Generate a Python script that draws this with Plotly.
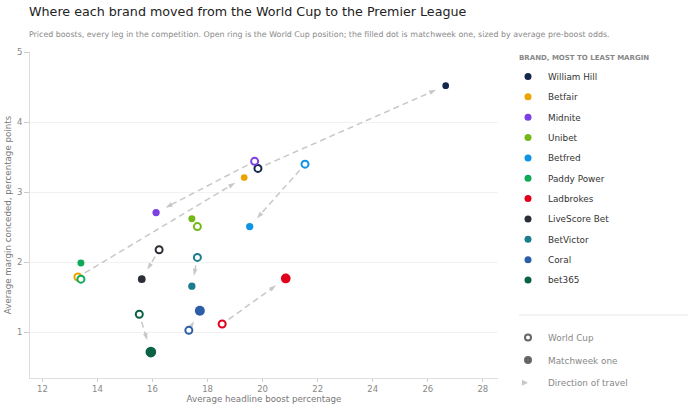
import numpy as np
import plotly.graph_objects as go

brands = ["William Hill", "Betfair", "Midnite", "Unibet", "Betfred", "Paddy Power",
          "Ladbrokes", "LiveScore Bet", "BetVictor", "Coral", "bet365"]
wc_boost = [19.83, 13.29, 19.71, 17.63, 21.54, 13.40, 18.53, 16.24, 17.63, 17.32, 15.52]
wc_margin = [3.34, 1.79, 3.44, 2.51, 3.40, 1.76, 1.12, 2.18, 2.07, 1.03, 1.26]
mw_boost = [26.65, 19.33, 16.13, 17.43, 19.53, 13.40, 20.84, 15.61, 17.43, 17.72, 15.94]
mw_margin = [4.52, 3.21, 2.71, 2.62, 2.51, 1.99, 1.77, 1.76, 1.66, 1.31, 0.72]
mw_odds = [5.0, 5.0, 5.9, 5.4, 5.9, 5.4, 10.5, 6.6, 5.9, 11.1, 12.7]
colors = ["#14264a", "#eba300", "#7b3fe4", "#74b816", "#0f93e3", "#0fa958",
          "#e0001b", "#2a2e35", "#1b7d8f", "#2c5ea8", "#0b6343"]

W, H = 700, 410
ML, MR, MT, MB = 30, 202, 52, 32
XR = [11.55, 28.55]
YR = [0.35, 5.0]
PW, PH = W - ML - MR, H - MT - MB
sx = PW / (XR[1] - XR[0])
sy = PH / (YR[1] - YR[0])

def size_of(odds):
    return 3.0 * np.sqrt(odds)

FONT = "DejaVu Sans"
ARROW = "#c8c8c8"
fig = go.Figure()

# arrows (direction of travel): dashed shaft + rotated arrowhead
tips_x, tips_y, tips_a = [], [], []
for i, b in enumerate(brands):
    x0, y0 = wc_boost[i] * sx, wc_margin[i] * sy
    x1, y1 = mw_boost[i] * sx, mw_margin[i] * sy
    dx, dy = x1 - x0, y1 - y0
    d = np.hypot(dx, dy)
    s0 = 8.0
    e0 = size_of(mw_odds[i]) / 2 + 7.0
    if d < s0 + e0 + 2:
        continue
    ux, uy = dx / d, dy / d
    tx, ty = x1 - ux * e0, y1 - uy * e0
    shaft_end = max(d - e0 - 4.0, s0)
    fig.add_trace(go.Scatter(
        x=[(x0 + ux * s0) / sx, (x0 + ux * shaft_end) / sx],
        y=[(y0 + uy * s0) / sy, (y0 + uy * shaft_end) / sy],
        mode="lines", showlegend=False, hoverinfo="skip",
        line=dict(color=ARROW, width=1.5, dash="6px,4px"),
    ))
    tips_x.append(tx / sx)
    tips_y.append(ty / sy)
    tips_a.append(float(np.degrees(np.arctan2(ux, uy))))

fig.add_trace(go.Scatter(
    x=tips_x, y=tips_y, mode="markers", showlegend=False, hoverinfo="skip",
    marker=dict(symbol="arrow", size=7.5, angle=tips_a, angleref="up", color=ARROW,
                line=dict(width=0)),
))

# World Cup rings
for i, b in enumerate(brands):
    fig.add_trace(go.Scatter(
        x=[wc_boost[i]], y=[wc_margin[i]], mode="markers", showlegend=False,
        name=b + " (World Cup)",
        marker=dict(symbol="circle", size=7, color="white",
                    line=dict(color=colors[i], width=2)),
    ))

# Matchweek one dots
for i, b in enumerate(brands):
    fig.add_trace(go.Scatter(
        x=[mw_boost[i]], y=[mw_margin[i]], mode="markers", showlegend=False,
        name=b + " (Matchweek one)",
        marker=dict(symbol="circle", size=size_of(mw_odds[i]), color=colors[i],
                    line=dict(width=0)),
    ))

# legend keys for brands
for i, b in enumerate(brands):
    fig.add_trace(go.Scatter(
        x=[None], y=[None], mode="markers", name=b, legend="legend",
        legendgroup=b,
        marker=dict(symbol="circle", size=7, color=colors[i]),
    ))

# legend keys for encoding
fig.add_trace(go.Scatter(x=[None], y=[None], mode="markers", name="World Cup",
                         legend="legend2", legendgroup="wc",
                         marker=dict(symbol="circle", size=6, color="white",
                                     line=dict(color="#666666", width=2))))
fig.add_trace(go.Scatter(x=[None], y=[None], mode="markers", name="Matchweek one",
                         legend="legend2", legendgroup="mw",
                         marker=dict(symbol="circle", size=8, color="#666666")))
fig.add_trace(go.Scatter(x=[None], y=[None], mode="markers", name="Direction of travel",
                         legend="legend2", legendgroup="dir",
                         marker=dict(symbol="arrow-right", size=6, color=ARROW)))

def px_to_paper_x(px):
    return (px - ML) / PW

def px_to_paper_y(py):
    return (H - MB - py) / PH

fig.update_layout(
    width=W, height=H,
    margin=dict(l=ML, r=MR, t=MT, b=MB, autoexpand=False),
    paper_bgcolor="white", plot_bgcolor="white",
    font=dict(family=FONT, size=9, color="#888888"),
    title=dict(
        text="Where each brand moved from the World Cup to the Premier League",
        x=29 / W, xanchor="left", xref="container",
        y=1 - 7 / H, yanchor="top", yref="container",
        font=dict(family=FONT, size=12.7, color="#222222"),
        subtitle=dict(
            text="Priced boosts, every leg in the competition. Open ring is the World Cup position; the filled dot is matchweek one, sized by average pre-boost odds.",
            font=dict(family=FONT, size=7.9, color="#8a8a8a"),
        ),
    ),
    xaxis=dict(
        range=XR, dtick=2, tick0=12, showgrid=False, zeroline=False, automargin=False,
        showline=True, linecolor="#dddddd", linewidth=1,
        ticks="outside", ticklen=3, tickcolor="#cccccc",
        tickfont=dict(size=8.5, color="#888888"),
        title=dict(text="Average headline boost percentage", standoff=1,
                   font=dict(size=8.7, color="#777777")),
    ),
    yaxis=dict(
        range=YR, dtick=1, tick0=0, showgrid=True, gridcolor="#f2f2f2", gridwidth=1,
        zeroline=False, showline=True, linecolor="#dddddd", linewidth=1, automargin=False,
        ticks="outside", ticklen=5, tickcolor="#cccccc",
        tickfont=dict(size=8.5, color="#888888"),
        title=dict(text="Average margin conceded, percentage points", standoff=3,
                   font=dict(size=8.7, color="#777777")),
    ),
    legend=dict(
        x=px_to_paper_x(508), xanchor="left", y=px_to_paper_y(62), yanchor="top",
        font=dict(size=8.85, color="#333333"),
        tracegroupgap=1.35, bgcolor="rgba(0,0,0,0)", maxheight=400,
        itemclick=False, itemdoubleclick=False,
    ),
    legend2=dict(
        x=px_to_paper_x(508), xanchor="left", y=px_to_paper_y(323), yanchor="top",
        font=dict(size=8.85, color="#888888"), maxheight=400,
        tracegroupgap=3.6, bgcolor="rgba(0,0,0,0)",
        itemclick=False, itemdoubleclick=False,
    ),
    annotations=[dict(
        text="<b>BRAND, MOST TO LEAST MARGIN</b>", xref="paper", yref="paper",
        x=px_to_paper_x(517), y=px_to_paper_y(58), xanchor="left", yanchor="middle",
        showarrow=False, font=dict(family=FONT, size=7, color="#888888"),
    )],
    shapes=[dict(type="line", xref="paper", yref="paper",
                 x0=px_to_paper_x(519), x1=px_to_paper_x(688),
                 y0=px_to_paper_y(315), y1=px_to_paper_y(315),
                 line=dict(color="#e6e6e6", width=1))],
)

fig.write_html("out.html", config={"displayModeBar": False},
               post_script="document.body.style.margin='0px';")
